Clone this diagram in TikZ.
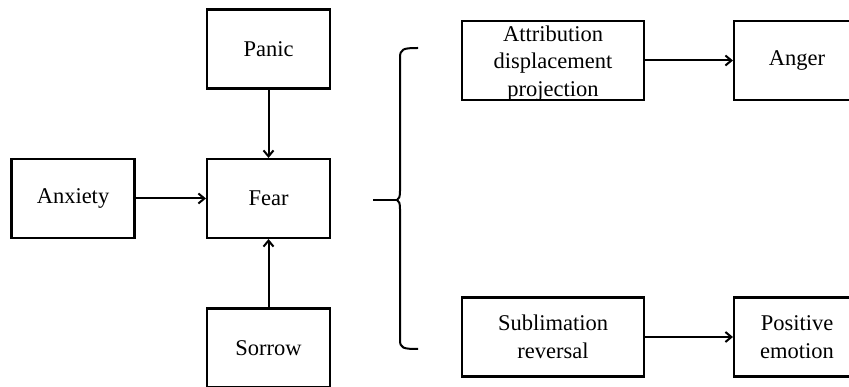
\documentclass[tikz,border=0pt]{standalone}
\usepackage{fontspec}
\setmainfont{Liberation Serif}
\usetikzlibrary{arrows.meta}
\begin{document}
\begin{tikzpicture}[x=1pt,y=-1pt,
  txt/.style={inner sep=0pt,align=center,font=\fontsize{22.5}{27.5}\selectfont},
  box/.style={txt,draw,line width=2.1pt},
  sbox/.style={box,minimum width=123pt,minimum height=79pt},
  wbox/.style={box,minimum width=182pt,minimum height=79pt},
  abox/.style={box,minimum width=126pt,minimum height=79pt},
  conn/.style={line width=2pt,-{Straight Barb[length=6pt,width=10pt,line width=2pt]}},
  brace/.style={line width=2pt,line join=round}]
\useasboundingbox (0,0) rectangle (849,387);
\clip (0,0) rectangle (849,387);
\node[sbox] (panic) at (268.5,49) {Panic};
\node[sbox] (fear) at (268.5,198.5) {Fear};
\node[sbox] (anx) at (73,198.5) {Anxiety};
\node[sbox] (sorrow) at (268.5,348) {Sorrow};
\node[wbox] (attr) at (553,60.5) {};
\node[txt] (attrtext) at (553,63.5) {Attribution\\displacement\\projection};
\node[abox] (anger) at (797,60.5) {Anger};
\node[wbox] (subl) at (553,337) {Sublimation\\reversal};
\node[abox] (pos) at (797,337) {Positive\\emotion};
\draw[conn] (panic) -- (fear);
\draw[conn] (anx) -- (fear);
\draw[conn] (sorrow) -- (fear);
\draw[conn] (attr) -- (anger);
\draw[conn] (subl) -- (pos);
\coordinate (bstub) at (373,200);
\coordinate (btip) at (397,200);
\coordinate (btop) at (418,48);
\coordinate (bbot) at (418,349);
\draw[brace] (bstub) -- (btip);
\draw[brace] (btop) .. controls (403,48) and (400,49) .. (400,58)
  -- (400,191) .. controls (400,197) and (399,199) .. (btip)
  .. controls (399,201) and (400,203) .. (400,209)
  -- (400,340) .. controls (400,348) and (403,349) .. (bbot);
\end{tikzpicture}
\end{document}
